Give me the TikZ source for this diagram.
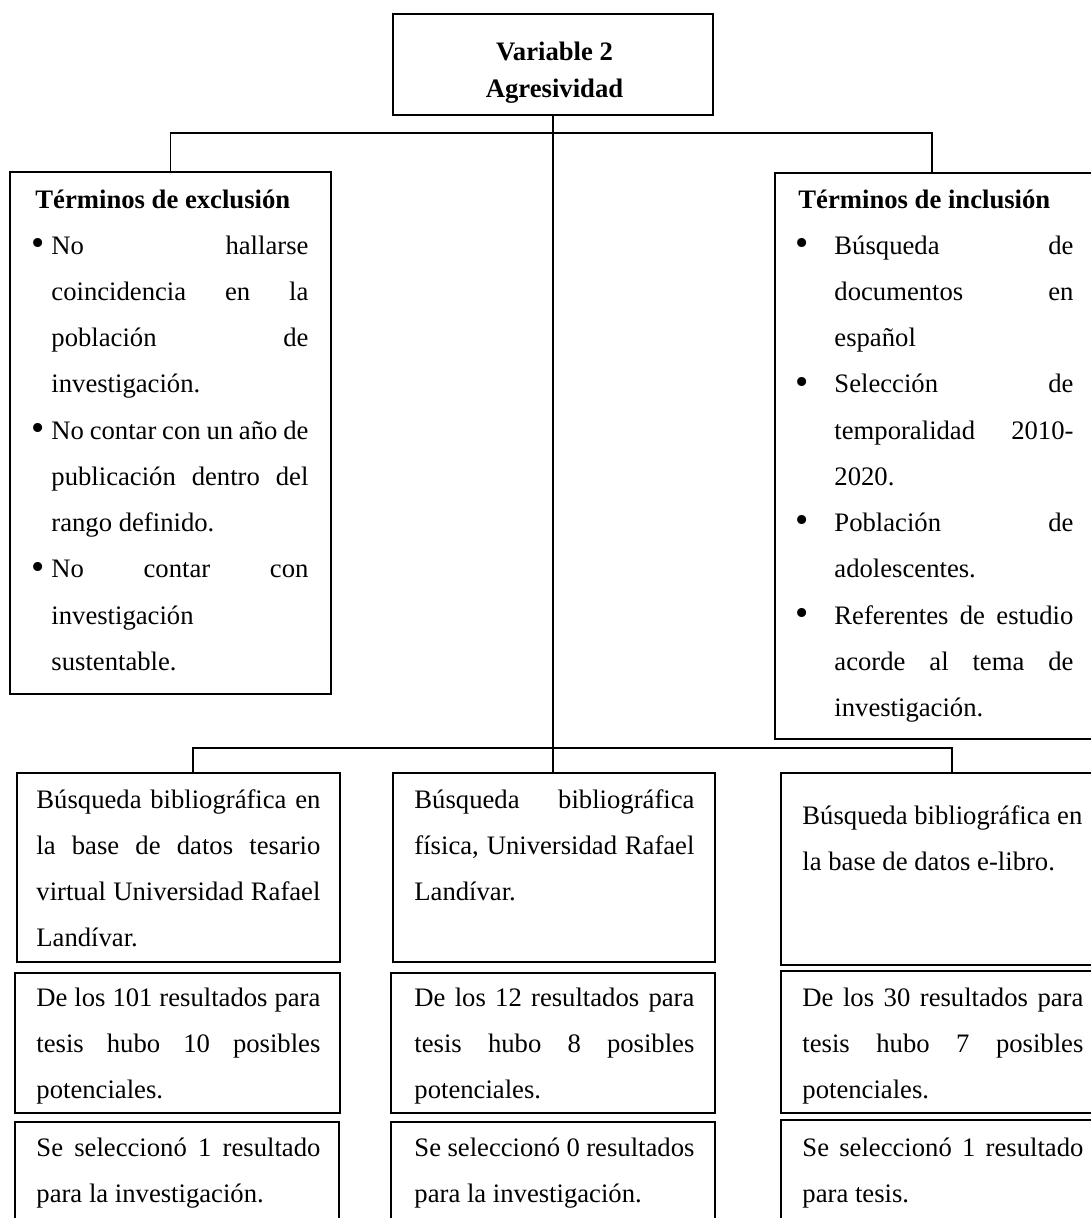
\documentclass[tikz,border=0pt]{standalone}
\usepackage{fontspec}
\setmainfont{Liberation Serif}
\usetikzlibrary{fit}
\newcommand\JLine[1]{\makebox[\linewidth][s]{#1}}
\newcommand\BigBul{{\fontsize{17pt}{17pt}\selectfont\raisebox{-0.6pt}{\textbullet}}}
\newcommand\BulL{\llap{\BigBul\hspace{3pt}}}
\newcommand\BulR{\llap{\BigBul\hspace{11.6pt}}}
\hbadness=10000 \hfuzz=20pt
\tikzset{
  boxst/.style={draw=black, line width=1.2pt, inner sep=0pt},
  conn/.style={draw=black, line width=0.55pt},
  txt/.style={anchor=base west, inner sep=0pt, font=\fontsize{12pt}{20.8pt}\selectfont},
}
\begin{document}
\begin{tikzpicture}[x=0.45pt, y=-0.45pt]
\useasboundingbox (0,0) rectangle (1091,1218);
\fill[white] (0,0) rectangle (1091,1218);
\clip (0,0) rectangle (1091,1218);

% boxes
\node[boxst, fit={(393,14) (713,115)}] (top) {};
\node[boxst, fit={(10,172) (331,694)}] (excl) {};
\node[boxst, fit={(775,173) (1110,739)}] (incl) {};
\node[boxst, fit={(17,773) (340,962)}] (b1) {};
\node[boxst, fit={(393,773) (715,962)}] (b2) {};
\node[boxst, fit={(781,773) (1110,965)}] (b3) {};
\node[boxst, fit={(15,973) (340,1113)}] (c1) {};
\node[boxst, fit={(391,973) (715,1113)}] (c2) {};
\node[boxst, fit={(781,971) (1110,1113)}] (c3) {};
\node[boxst, fit={(15,1122) (339,1260)}] (d1) {};
\node[boxst, fit={(391,1122) (715,1260)}] (d2) {};
\node[boxst, fit={(781,1120) (1110,1260)}] (d3) {};

% connectors
\coordinate (jt) at (553,133);
\coordinate (inclTop) at (932,173);
\coordinate (jb) at (553,748);
\coordinate (b1Top) at (193,773);
\coordinate (b3Top) at (952,773);
\draw[conn] (top.south) -- (top.south |- b2.north);
\draw[conn] (excl.north) |- (jt) -| (inclTop);
\draw[conn] (b1Top) |- (jb) -| (b3Top);

% texts
\node[txt] (tv1) at (553,60) {\makebox[0pt]{\bfseries Variable 2}};
\node[txt] (tv2) at (553,97) {\makebox[0pt]{\bfseries Agresividad}};

\node[txt] (texcl) at (51,208) {\begin{minipage}[t]{115.65pt}
\hspace*{-7.2pt}\textbf{Términos de exclusión}\\
\JLine{\BulL No hallarse}\\
\JLine{coincidencia en la}\\
\JLine{población de}\\
investigación.\\
\JLine{\BulL No contar con un año de}\\
\JLine{publicación dentro del}\\
rango definido.\\
\JLine{\BulL No contar con}\\
investigación\\
sustentable.
\end{minipage}};

\node[txt] (tincl) at (834,208) {\begin{minipage}[t]{107.55pt}
\hspace*{-16.2pt}\textbf{Términos de inclusión}\\
\JLine{\BulR Búsqueda de}\\
\JLine{documentos en}\\
español\\
\JLine{\BulR Selección de}\\
\JLine{temporalidad 2010-}\\
2020.\\
\JLine{\BulR Población de}\\
adolescentes.\\
\JLine{\BulR Referentes de estudio}\\
\JLine{acorde al tema de}\\
investigación.
\end{minipage}};

\node[txt] (tb1) at (36,808) {\begin{minipage}[t]{127.8pt}
\JLine{Búsqueda bibliográfica en}\\
\JLine{la base de datos tesario}\\
\JLine{virtual Universidad Rafael}\\
Landívar.
\end{minipage}};
\node[txt] (tb2) at (414,808) {\begin{minipage}[t]{126pt}
\JLine{Búsqueda bibliográfica}\\
\JLine{física, Universidad Rafael}\\
Landívar.
\end{minipage}};
\node[txt] (tb3) at (802,824) {\begin{minipage}[t]{126.45pt}
Búsqueda bibliográfica en\\
la base de datos e-libro.
\end{minipage}};

\node[txt] (tc1) at (36,1006) {\begin{minipage}[t]{127.8pt}
\JLine{De los 101 resultados para}\\
\JLine{tesis hubo 10 posibles}\\
potenciales.
\end{minipage}};
\node[txt] (tc2) at (414,1006) {\begin{minipage}[t]{126pt}
\JLine{De los 12 resultados para}\\
\JLine{tesis hubo 8 posibles}\\
potenciales.
\end{minipage}};
\node[txt] (tc3) at (802,1006) {\begin{minipage}[t]{126.45pt}
\JLine{De los 30 resultados para}\\
\JLine{tesis hubo 7 posibles}\\
potenciales.
\end{minipage}};

\node[txt] (td1) at (36,1156) {\begin{minipage}[t]{127.8pt}
\JLine{Se seleccionó 1 resultado}\\
para la investigación.
\end{minipage}};
\node[txt] (td2) at (414,1156) {\begin{minipage}[t]{126pt}
Se seleccionó 0 resultados\\
para la investigación.
\end{minipage}};
\node[txt] (td3) at (802,1156) {\begin{minipage}[t]{126.45pt}
\JLine{Se seleccionó 1 resultado}\\
para tesis.
\end{minipage}};
\end{tikzpicture}
\end{document}
